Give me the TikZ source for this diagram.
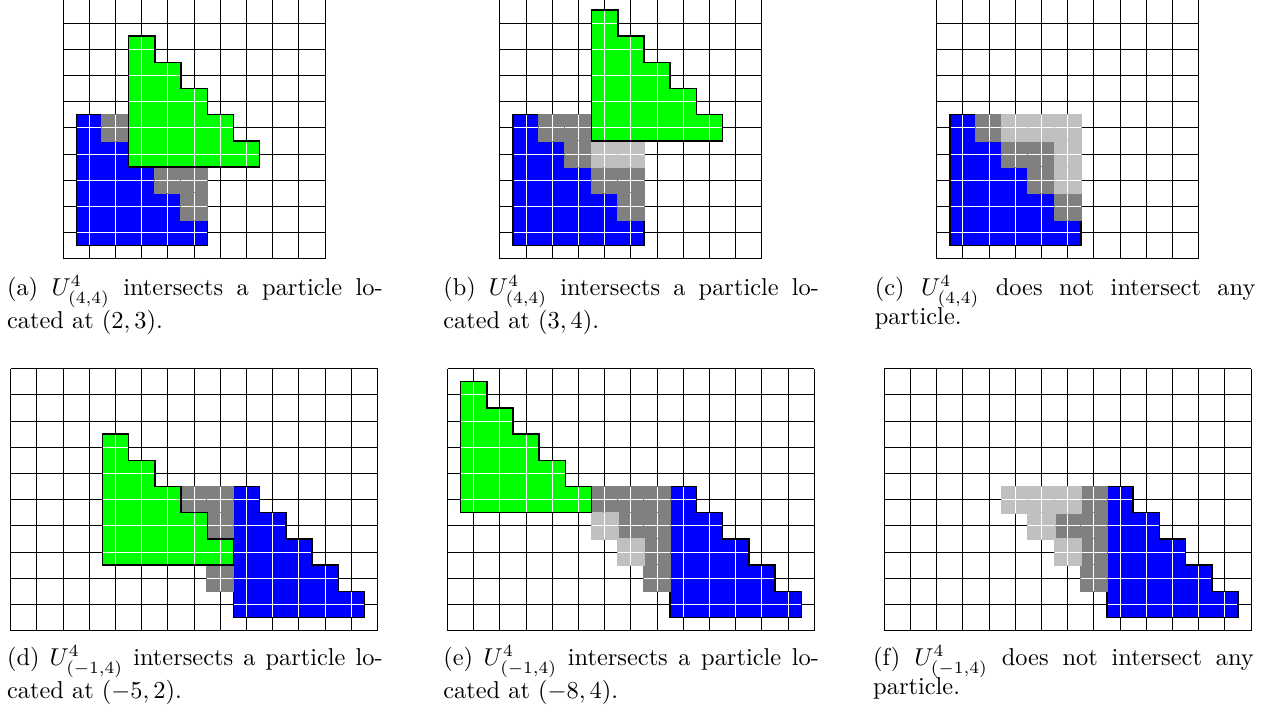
\documentclass[tikz,border=0pt]{standalone}
\usepackage{amsmath}
\usepackage{tikz}
\definecolor{partblue}{RGB}{0,0,255}
\definecolor{partgreen}{RGB}{0,255,0}
\definecolor{darkcellgray}{RGB}{128,128,128}
\definecolor{lightcellgray}{RGB}{192,192,192}

\tikzset{
	particle/.pic={
		\fill[#1] (-.5,-.5) -| (4.5,.5) -| (3.5,1.5) -| (2.5,2.5) -| (1.5,3.5) -| (.5,4.5) -- (-.5,4.5) -- cycle;
		\foreach \k in {0,...,4}
			\draw[cellline] (-.5,\k) -- (4.5-\k,\k) (\k,-.5) -- (\k,4.5-\k);
		\draw[outline] (-.5,-.5) -| (4.5,.5) -| (3.5,1.5) -| (2.5,2.5) -| (1.5,3.5) -| (.5,4.5) -- (-.5,4.5) -- cycle;
	}
}
\newcommand{\shadecells}[2]{%
	\foreach \x/\y in {#2} {
		\path[#1] (\x-.5,\y-.5) rectangle ++(1,1);
		\draw[cellline] (\x-.5,\y) -- ++(1,0) (\x,\y-.5) -- ++(0,1);
	}}

\begin{document}
\begin{tikzpicture}[x=10.74pt,y=10.74pt,
	gridline/.style={black,thin,step={(1,1)}},
	cellline/.style={white,thin},
	outline/.style={black,semithick,line join=miter},
	darkcell/.style={fill=darkcellgray,draw=darkcellgray,line width=.8pt},
	lightcell/.style={fill=lightcellgray,draw=lightcellgray,line width=.8pt},
	subcap/.style={anchor=base west,text width=154pt,align=justify,inner sep=0pt}]
	\useasboundingbox (0,0) rectangle (48.51,27.02);
	\clip (0,0) rectangle (48.51,27.02);

	\begin{scope}[shift={(2.41,17.14)}]
		\draw[gridline] (0,0) grid (10,10);
		\pic at (1,1) {particle=partblue};
		\shadecells{darkcell}{2/5,4/3,5/3,5/2}
		\pic at (3,4) {particle=partgreen};
	\end{scope}
	\node[subcap] (capa) at (0.25,15.74) {(a) $U^4_{(4,4)}$ intersects a particle lo-\linebreak cated at $(2,3)$.};

	\begin{scope}[shift={(19.08,17.14)}]
		\draw[gridline] (0,0) grid (10,10);
		\pic at (1,1) {particle=partblue};
		\shadecells{darkcell}{2/5,3/5,3/4,4/3,5/3,5/2}
		\shadecells{lightcell}{4/4,5/4}
		\pic at (4,5) {particle=partgreen};
	\end{scope}
	\node[subcap] (capb) at (16.90,15.74) {(b) $U^4_{(4,4)}$ intersects a particle lo-\linebreak cated at $(3,4)$.};

	\begin{scope}[shift={(35.75,17.14)}]
		\draw[gridline] (0,0) grid (10,10);
		\pic at (1,1) {particle=partblue};
		\shadecells{darkcell}{2/5,3/4,4/4,4/3,5/2}
		\shadecells{lightcell}{3/5,4/5,5/5,5/4,5/3}
	\end{scope}
	\node[subcap,text width=156pt] (capc) at (33.37,15.74) {(c) $U^4_{(4,4)}$ does not intersect any\linebreak particle.};

	\begin{scope}[shift={(0.41,2.95)}]
		\draw[gridline] (0,0) grid (14,10);
		\pic at (9,1) {particle=partblue};
		\shadecells{darkcell}{7/5,8/5,8/4,8/3,8/2}
		\pic at (4,3) {particle=partgreen};
	\end{scope}
	\node[subcap] (capd) at (0.25,1.62) {(d) $U^4_{(-1,4)}$ intersects a particle lo-\linebreak cated at $(-5,2)$.};

	\begin{scope}[shift={(17.08,2.95)}]
		\draw[gridline] (0,0) grid (14,10);
		\pic at (9,1) {particle=partblue};
		\shadecells{darkcell}{6/5,7/5,8/5,7/4,8/4,8/3,8/2}
		\shadecells{lightcell}{6/4,7/3}
		\pic at (1,5) {particle=partgreen};
	\end{scope}
	\node[subcap] (cape) at (16.90,1.62) {(e) $U^4_{(-1,4)}$ intersects a particle lo-\linebreak cated at $(-8,4)$.};

	\begin{scope}[shift={(33.75,2.95)}]
		\draw[gridline] (0,0) grid (14,10);
		\pic at (9,1) {particle=partblue};
		\shadecells{darkcell}{8/5,7/4,8/4,8/3,8/2}
		\shadecells{lightcell}{5/5,6/5,7/5,6/4,7/3}
	\end{scope}
	\node[subcap,text width=156pt] (capf) at (33.31,1.62) {(f) $U^4_{(-1,4)}$ does not intersect any\linebreak particle.};
\end{tikzpicture}
\end{document}
